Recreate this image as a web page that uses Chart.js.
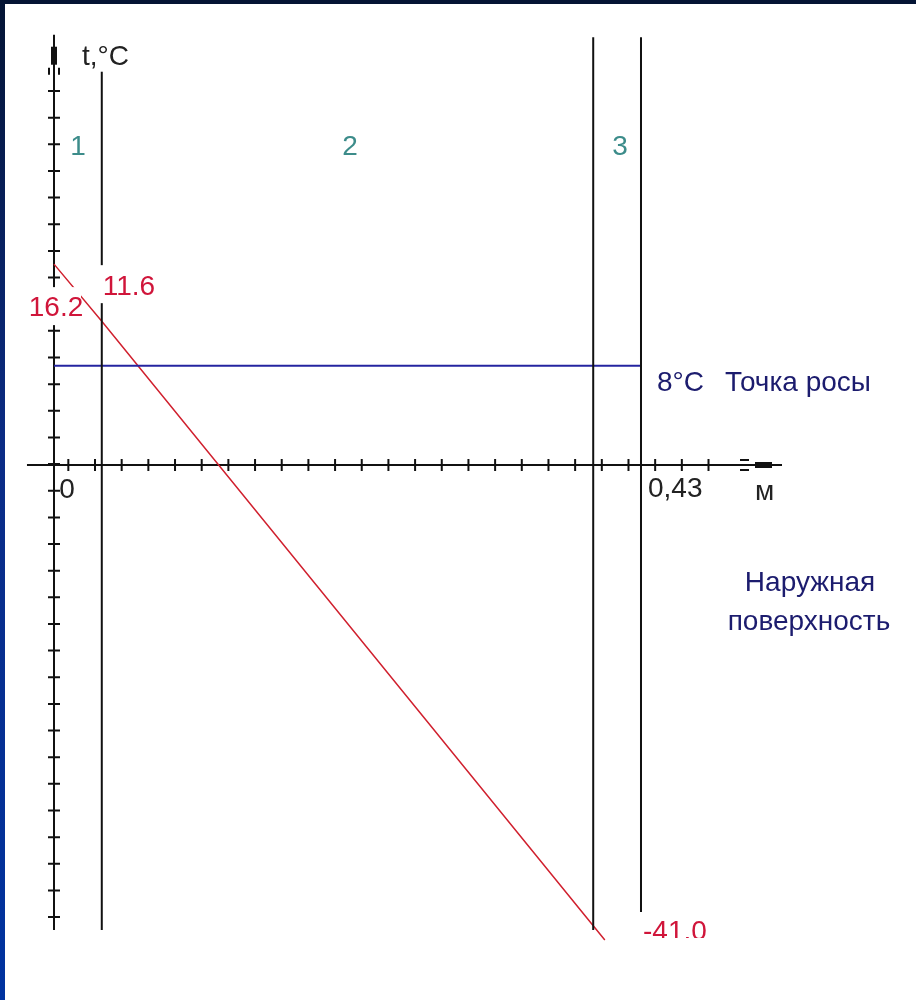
<!DOCTYPE html>
<html lang="ru">
<head>
<meta charset="utf-8">
<title>Распределение температуры в стене</title>
<script src="https://cdn.jsdelivr.net/npm/chart.js@4.4.0/dist/chart.umd.min.js"></script>
<style>
  html, body { margin: 0; padding: 0; background: #fff; }
  #wrap { position: relative; width: 916px; height: 1000px; overflow: hidden; }
  #chart { position: absolute; left: 0; top: 0; }
  .frame-top { position: absolute; left: 0; top: 0; width: 916px; height: 4px; background: #041434; }
  .frame-left { position: absolute; left: 0; top: 0; width: 5px; height: 1000px;
                background: linear-gradient(#041434, #0b2c86 45%, #0033a0); }
</style>
</head>
<body>
<div id="wrap">
  <canvas id="chart" width="916" height="1000"></canvas>
  <div class="frame-top"></div>
  <div class="frame-left"></div>
</div>
<script>
// профиль температуры по толщине стены (x в метрах, t в °C)
const profileX = [0, 0.035, 0.4035];
const profileT = [16.2, 11.6, -38.3];
const profileLabels = ['16.2', '11.6', '-41.0'];

// границы слоёв
const layerBounds = [0.035, 0.395, 0.43];
const layerTop = 34.5;
const layerBottom = -37.5;
const layerNames = ['1', '2', '3'];
const layerNameX = [0.0176, 0.2168, 0.4146];
const layerNameT = 25.6;

// точка росы
const dewPoint = 8;
const dewLabel = '8°C';
const dewText = 'Точка росы';
const wallThickness = 0.43;
const xTickLabels = ['0', '0,43'];
const outerLabel = ['Наружная', 'поверхность'];

// оси
const xAxisRange = [-0.0198, 0.5333];
const yAxisRange = [-37.5, 34.7];
const xTickStart = 0.0105, xTickStep = 0.01954, xTickCount = 25;
const yTickStart = 30.16, yTickStep = 2.149, yTickCount = 32;

const FONT = '28px "Liberation Sans", Arial, sans-serif';

const wallDecor = {
  id: 'wallDecor',
  beforeDatasetsDraw(chart) {
    const { ctx, scales: { x, y } } = chart;
    const x0 = x.getPixelForValue(0), y0 = y.getPixelForValue(0);
    const xe = x.getPixelForValue(xAxisRange[1]);
    const yt = y.getPixelForValue(yAxisRange[1]);
    ctx.save();
    ctx.strokeStyle = '#111';
    ctx.lineWidth = 2;
    ctx.beginPath();
    ctx.moveTo(x.getPixelForValue(xAxisRange[0]), y0);
    ctx.lineTo(xe, y0);
    ctx.moveTo(x0, yt);
    ctx.lineTo(x0, y.getPixelForValue(yAxisRange[0]));
    for (let i = 0; i < xTickCount; i++) {
      const px = x.getPixelForValue(xTickStart + i * xTickStep);
      ctx.moveTo(px, y0 - 6);
      ctx.lineTo(px, y0 + 6);
    }
    for (let i = 0; i < yTickCount; i++) {
      const py = y.getPixelForValue(yTickStart - i * yTickStep);
      ctx.moveTo(x0 - 6, py);
      ctx.lineTo(x0 + 6, py);
    }
    // "оперение" стрелок
    ctx.moveTo(xe - 42, y0 - 5); ctx.lineTo(xe - 33, y0 - 5);
    ctx.moveTo(xe - 42, y0 + 5); ctx.lineTo(xe - 33, y0 + 5);
    ctx.moveTo(x0 - 5, yt + 33); ctx.lineTo(x0 - 5, yt + 40);
    ctx.moveTo(x0 + 5, yt + 33); ctx.lineTo(x0 + 5, yt + 40);
    ctx.stroke();
    ctx.fillStyle = '#111';
    ctx.fillRect(xe - 27, y0 - 3, 17, 6);
    ctx.fillRect(x0 - 3, yt + 12, 6, 18);
    ctx.restore();
  },
  afterDatasetsDraw(chart) {
    const { ctx, scales: { x, y } } = chart;
    const X = v => x.getPixelForValue(v);
    const Y = v => y.getPixelForValue(v);
    ctx.save();
    ctx.font = FONT;

    function bg(l, t, w, h) {
      ctx.fillStyle = '#fff';
      ctx.fillRect(l, t, w, h);
    }
    function text(s, px, py, color, align, base) {
      ctx.fillStyle = color;
      ctx.textAlign = align || 'left';
      ctx.textBaseline = base || 'middle';
      ctx.fillText(s, px, py);
    }

    // подпись оси t
    bg(X(0) + 20, Y(yAxisRange[1]) - 7, 62, 44);
    text('t,°C', X(0) + 28, Y(yAxisRange[1]) + 30, '#222', 'left', 'alphabetic');

    // номера слоёв
    layerNames.forEach((n, i) => text(n, X(layerNameX[i]), Y(layerNameT), '#3c8c8a', 'center'));

    // значения температуры
    const red = '#d0153a';
    bg(X(0) - 28, Y(profileT[0]) + 23, 55, 38);
    text(profileLabels[0], X(0) + 2, Y(profileT[0]) + 44, red, 'center');
    bg(X(profileX[1]) - 2, Y(profileT[1]) - 56, 62, 38);
    text(profileLabels[1], X(profileX[1]) + 1, Y(profileT[1]) - 34, red);
    const bx = X(wallThickness), by = Y(yAxisRange[0]);
    bg(bx - 3, by - 18, 74, 30);
    ctx.save();
    ctx.beginPath();
    ctx.rect(bx, by - 20, 90, 28);
    ctx.clip();
    text(profileLabels[2], bx + 2, by + 10, red, 'left', 'alphabetic');
    ctx.restore();

    // точка росы
    const navy = '#1c1c6e';
    text(dewLabel, X(wallThickness) + 16, Y(dewPoint) + 17, navy);
    text(dewText, X(wallThickness) + 84, Y(dewPoint) + 17, navy);

    // подписи оси x
    text(xTickLabels[0], X(0) + 13, Y(0) + 25, '#222', 'center');
    text(xTickLabels[1], X(wallThickness) + 7, Y(0) + 24, '#222');
    text('м', X(xAxisRange[1]) - 27, Y(0) + 35, '#222', 'left', 'alphabetic');

    // наружная поверхность
    text(outerLabel[0], X(wallThickness) + 169, Y(0) + 118, navy, 'center');
    text(outerLabel[1], X(wallThickness) + 168, Y(0) + 157, navy, 'center');
    ctx.restore();
  }
};

const layerSets = layerBounds.map(b => ({
  data: [{ x: b, y: layerTop }, { x: b, y: layerBottom }],
  borderColor: '#111',
  borderWidth: 2,
  showLine: true,
  pointRadius: 0
}));

new Chart(document.getElementById('chart'), {
  type: 'scatter',
  data: {
    datasets: [
      ...layerSets,
      {
        data: [{ x: 0, y: dewPoint }, { x: wallThickness, y: dewPoint }],
        borderColor: '#2424a0',
        borderWidth: 2,
        showLine: true,
        pointRadius: 0
      },
      {
        data: profileX.map((v, i) => ({ x: v, y: profileT[i] })),
        borderColor: '#d0202e',
        borderWidth: 1.5,
        showLine: true,
        pointRadius: 0
      }
    ]
  },
  options: {
    responsive: false,
    animation: false,
    devicePixelRatio: 1,
    layout: { padding: 0 },
    plugins: { legend: { display: false }, tooltip: { enabled: false } },
    scales: {
      x: { type: 'linear', display: false, min: -0.039558, max: 0.631456 },
      y: { type: 'linear', display: false, min: -43.1452, max: 37.5 }
    }
  },
  plugins: [wallDecor]
});
</script>
</body>
</html>
